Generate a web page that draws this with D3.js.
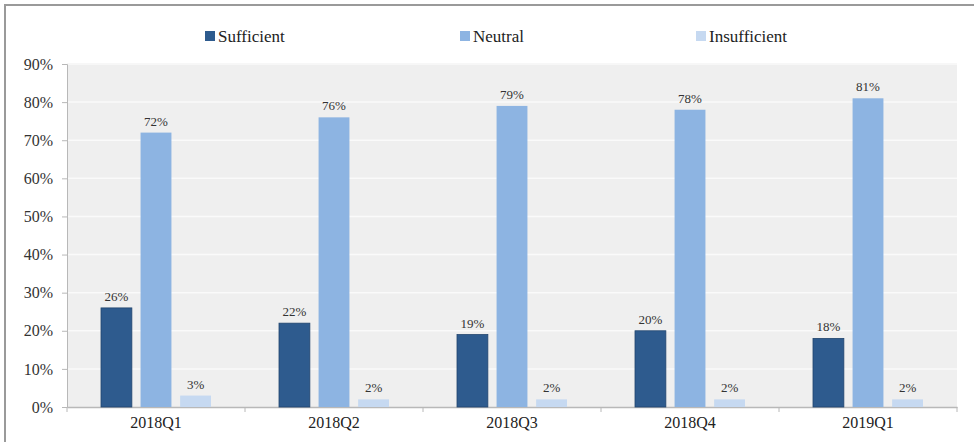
<!doctype html>
<html>
<head>
<meta charset="utf-8">
<script src="https://cdn.jsdelivr.net/npm/d3@7"></script>
<style>
  body { margin: 0; background: #fff; }
  text { font-family: "Liberation Serif", "DejaVu Serif", serif; }
</style>
</head>
<body>
<svg id="chart" width="974" height="442"></svg>
<script>
// data
var quarters = ["2018Q1", "2018Q2", "2018Q3", "2018Q4", "2019Q1"];
var seriesNames = ["Sufficient", "Neutral", "Insufficient"];
var sufficient = [26, 22, 19, 20, 18];
var neutral = [72, 76, 79, 78, 81];
var insufficient = [3, 2, 2, 2, 2];
var yTicks = [0, 10, 20, 30, 40, 50, 60, 70, 80, 90];
var colors = ["#2e5b8e", "#8db4e2", "#c6d9f1"];

var svg = d3.select("#chart");
var plotLeft = 67, plotRight = 957, plotTop = 64, plotBottom = 407;

// outer frame
svg.append("line").attr("x1", 4).attr("x2", 974).attr("y1", 5).attr("y2", 5)
   .attr("stroke", "#9a9a9a").attr("stroke-width", 2);
svg.append("line").attr("x1", 5).attr("x2", 5).attr("y1", 4).attr("y2", 442)
   .attr("stroke", "#9a9a9a").attr("stroke-width", 2);

var x0 = d3.scaleBand().domain(quarters).range([plotLeft, plotRight]);
var x1 = d3.scaleBand().domain(seriesNames).range([0, 110]).paddingInner(0.22);
var y = d3.scaleLinear().domain([0, 90]).range([plotBottom, plotTop]);

// plot background
svg.append("rect").attr("x", plotLeft).attr("y", plotTop - 1)
   .attr("width", plotRight - plotLeft).attr("height", plotBottom - plotTop + 1)
   .attr("fill", "#efefef");

// gridlines
svg.append("g").selectAll("line").data(yTicks.slice(1)).enter().append("line")
   .attr("x1", plotLeft).attr("x2", plotRight)
   .attr("y1", function(d) { return y(d); }).attr("y2", function(d) { return y(d); })
   .attr("stroke", "#fafafa").attr("stroke-width", 1.5);

// y axis
var yAxis = svg.append("g").attr("transform", "translate(" + plotLeft + ",0)")
   .call(d3.axisLeft(y).tickValues(yTicks).tickSize(5).tickPadding(9)
        .tickFormat(function(d) { return d + "%"; }));
yAxis.select(".domain").attr("stroke", "#b8b8b8");
yAxis.selectAll(".tick line").attr("stroke", "#b8b8b8");
yAxis.selectAll("text").attr("font-size", "16px").attr("fill", "#333")
   .style("font-family", "Liberation Serif, serif");

// x axis
var xAxis = svg.append("g").attr("transform", "translate(0," + plotBottom + ")")
   .call(d3.axisBottom(x0).tickSize(0).tickPadding(10));
xAxis.select(".domain").attr("stroke", "#b8b8b8").attr("stroke-width", 1.5);
xAxis.selectAll("text").attr("font-size", "16px").attr("fill", "#222")
   .style("font-family", "Liberation Serif, serif");
svg.append("g").selectAll("line").data(quarters.concat(["end"])).enter().append("line")
   .attr("x1", function(d, i) { return plotLeft + i * x0.step(); })
   .attr("x2", function(d, i) { return plotLeft + i * x0.step(); })
   .attr("y1", plotBottom).attr("y2", plotBottom + 5)
   .attr("stroke", "#b8b8b8");

// bars
var series = [sufficient, neutral, insufficient];
var groupOffset = (x0.bandwidth() - 110) / 2;
var rows = [];
quarters.forEach(function(q, qi) {
  seriesNames.forEach(function(s, si) {
    rows.push({ q: q, s: s, si: si, v: series[si][qi] });
  });
});

var bars = svg.append("g");
bars.selectAll("rect").data(rows).enter().append("rect")
   .attr("x", function(d) { return x0(d.q) + groupOffset + x1(d.s); })
   .attr("y", function(d) { return y(d.v); })
   .attr("width", x1.bandwidth())
   .attr("height", function(d) { return plotBottom - y(d.v); })
   .attr("fill", function(d) { return colors[d.si]; })
   .attr("stroke", function(d) { return d.si === 0 ? "#22456e" : "none"; })
   .attr("stroke-width", 0.8);

bars.selectAll("text").data(rows).enter().append("text")
   .attr("x", function(d) { return x0(d.q) + groupOffset + x1(d.s) + x1.bandwidth() / 2; })
   .attr("y", function(d) { return y(d.v) - 7; })
   .attr("text-anchor", "middle")
   .attr("font-size", "13px")
   .attr("fill", "#333")
   .text(function(d) { return d.v + "%"; });

// legend
var legendX = [205, 460, 696];
var legend = svg.append("g").selectAll("g").data(seriesNames).enter().append("g")
   .attr("transform", function(d, i) { return "translate(" + legendX[i] + ",36)"; });
legend.append("rect").attr("x", 0).attr("y", -5).attr("width", 10).attr("height", 10)
   .attr("fill", function(d, i) { return colors[i]; });
legend.append("text").attr("x", 13).attr("y", 6)
   .attr("font-size", "17px").attr("fill", "#222")
   .text(function(d) { return d; });
</script>
</body>
</html>
